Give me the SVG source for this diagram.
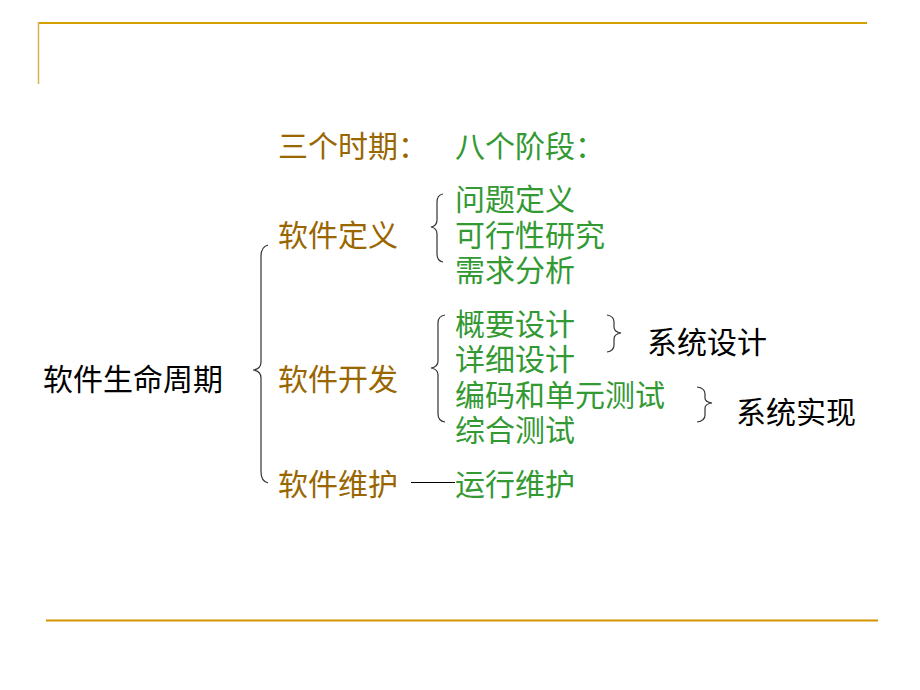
<svg xmlns="http://www.w3.org/2000/svg" width="920" height="690" viewBox="0 0 920 690">
<style>
text{font-family:"Noto Sans CJK SC","Noto Sans",sans-serif;font-size:30px}
.p{fill:#996600}
.s{fill:#339933}
.k{fill:#000}
.br{fill:none;stroke:#333;stroke-width:1.2}
.rule{stroke:#D4A000;stroke-width:2}
</style>
<rect width="920" height="690" fill="#fff"/>
<g id="frame">
<line class="rule" x1="38" y1="23" x2="867" y2="23"/>
<line x1="38.5" y1="22" x2="38.5" y2="84" stroke="#D9AF50" stroke-width="1.5"/>
<line x1="46" y1="620.5" x2="878" y2="620.5" stroke="#D49400" stroke-width="2"/>
</g>
<g id="headers">
<text class="p" x="278" y="157">三个时期：</text>
<text class="s" x="455" y="157">八个阶段：</text>
</g>
<g id="root"><text class="k" x="43" y="390">软件生命周期</text></g>
<g id="def"><text class="p" x="278" y="246">软件定义</text></g>
<g id="dev"><text class="p" x="278" y="390">软件开发</text></g>
<g id="maint"><text class="p" x="278" y="495">软件维护</text></g>
<g id="s1"><text class="s" x="455" y="210">问题定义</text></g>
<g id="s2"><text class="s" x="455" y="246">可行性研究</text></g>
<g id="s3"><text class="s" x="455" y="281">需求分析</text></g>
<g id="s4"><text class="s" x="455" y="335">概要设计</text></g>
<g id="s5"><text class="s" x="455" y="370">详细设计</text></g>
<g id="s6"><text class="s" x="455" y="406">编码和单元测试</text></g>
<g id="s7"><text class="s" x="455" y="441">综合测试</text></g>
<g id="s8"><text class="s" x="455" y="495">运行维护</text></g>
<g id="sysdesign"><text class="k" x="647" y="353">系统设计</text></g>
<g id="sysimpl"><text class="k" x="736" y="423">系统实现</text></g>
<g id="connectors">
<path class="br" d="M268,245 Q261,247 261,256 L261,362 Q261,369 253,370 Q261,371 261,378 L261,472 Q261,481 268,483"/>
<path class="br" d="M443,194 Q437,195 437,202 L437,220 Q437,226 431,227 Q437,228 437,234 L437,254 Q437,261 443,262"/>
<path class="br" d="M445,315 Q438,316 438,323 L438,361 Q438,367 431,368 Q438,369 438,375 L438,414 Q438,421 445,422"/>
<path class="br" d="M607,315 Q614,316 614,322 L614,327 Q614,332 621,333 Q614,334 614,339 L614,345 Q614,351 607,352"/>
<path class="br" d="M697,387 Q705,388 705,394 L705,398 Q705,402 712,403 Q705,404 705,408 L705,415 Q705,421 697,422"/>
<line x1="411" y1="482.5" x2="455" y2="482.5" stroke="#000" stroke-width="1"/>
</g>
</svg>
